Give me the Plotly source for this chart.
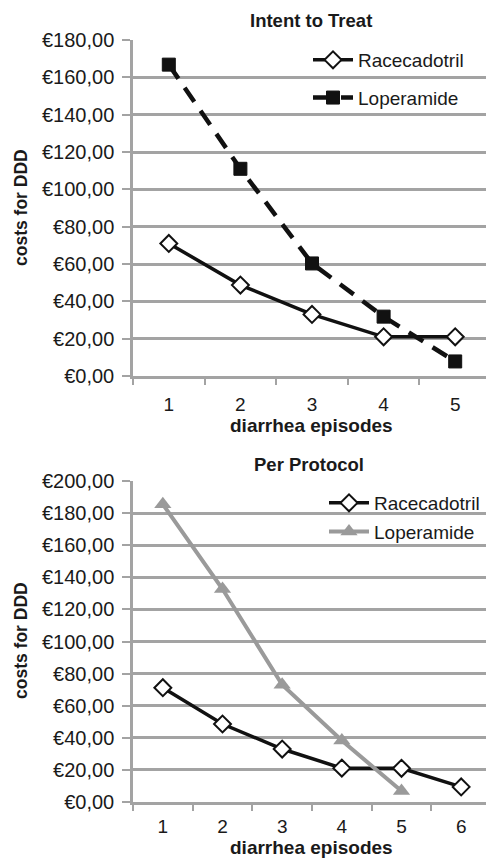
import plotly.graph_objects as go

# the page body adds an 8px margin; the figure is sized to fit the window
OFF = 8
W, H = 494 - OFF, 858 - OFF

# ---- data ----
itt_episodes = ["1", "2", "3", "4", "5"]
itt_racecadotril = [71.0, 48.7, 33.0, 21.0, 21.0]
itt_loperamide = [166.8, 111.0, 60.3, 31.8, 7.8]

pp_episodes = ["1", "2", "3", "4", "5", "6"]
pp_racecadotril = [71.2, 48.6, 33.0, 21.1, 21.0, 9.4]
pp_loperamide = [185.5, 132.7, 73.0, 38.3, 6.8]

FONT = "Liberation Sans, Arial, sans-serif"
TXT = "#1a1a1a"
GRID = "#a3a3a3"


def px_x(p):
    return (p - OFF) / W


def px_y(p):
    return 1 - (p - OFF) / H


fig = go.Figure()

# top chart
fig.add_trace(go.Scatter(
    x=itt_episodes, y=itt_racecadotril, name="Racecadotril", mode="lines+markers",
    line=dict(color="#111111", width=3.5),
    marker=dict(symbol="diamond", size=13, color="white", line=dict(color="#111111", width=2)),
    xaxis="x", yaxis="y", legend="legend", legendgroup="a"))
fig.add_trace(go.Scatter(
    x=itt_episodes, y=itt_loperamide, name="Loperamide", mode="lines+markers",
    line=dict(color="#111111", width=4.5, dash="17px,11px"),
    marker=dict(symbol="square", size=13, color="#111111", line=dict(color="#111111", width=1)),
    xaxis="x", yaxis="y", legend="legend", legendgroup="b"))

# bottom chart
fig.add_trace(go.Scatter(
    x=pp_episodes, y=pp_racecadotril, name="Racecadotril", mode="lines+markers",
    line=dict(color="#111111", width=3.5),
    marker=dict(symbol="diamond", size=13, color="white", line=dict(color="#111111", width=2)),
    xaxis="x2", yaxis="y2", legend="legend2", legendgroup="c"))
fig.add_trace(go.Scatter(
    x=pp_episodes[:len(pp_loperamide)], y=pp_loperamide, name="Loperamide", mode="lines+markers",
    line=dict(color="#9a9a9a", width=4),
    marker=dict(symbol="triangle-up", size=15, color="#9a9a9a"),
    xaxis="x2", yaxis="y2", legend="legend2", legendgroup="d"))

xcommon = dict(
    type="category", tickson="boundaries", ticks="outside", ticklen=6, tickwidth=2,
    tickcolor=GRID, showline=True, linecolor=GRID, linewidth=2.5, showgrid=False,
    tickfont=dict(family=FONT, size=19, color=TXT), fixedrange=True, automargin=False,
)
ycommon = dict(
    dtick=20, tickprefix="€", tickformat=".2f", ticks="outside", ticklen=8, tickwidth=2,
    tickcolor=GRID, showline=True, linecolor=GRID, linewidth=2.5, showgrid=True,
    gridcolor=GRID, gridwidth=2.5, zeroline=False, automargin=False,
    tickfont=dict(family=FONT, size=20, color=TXT), ticklabelstandoff=4,
)

fig.update_layout(
    width=W, height=H, margin=dict(l=0, r=0, t=0, b=0, autoexpand=False),
    paper_bgcolor="white", plot_bgcolor="white", separators=",.",
    xaxis=dict(domain=[px_x(133), px_x(491)], anchor="y", range=[-0.5, 4.5],
               ticklabelstandoff=9, **xcommon),
    yaxis=dict(domain=[px_y(376), px_y(40)], anchor="x", range=[0, 180], **ycommon),
    xaxis2=dict(domain=[px_x(133), px_x(491)], anchor="y2", range=[-0.5, 5.5],
                ticklabelstandoff=5, **xcommon),
    yaxis2=dict(domain=[px_y(802), px_y(481)], anchor="x2", range=[0, 200], **ycommon),
    legend=dict(x=px_x(308), y=px_y(41), xanchor="left", yanchor="top",
                font=dict(family=FONT, size=19, color=TXT), bgcolor="rgba(0,0,0,0)",
                tracegroupgap=10, itemwidth=40),
    legend2=dict(x=px_x(324), y=px_y(484), xanchor="left", yanchor="top",
                 font=dict(family=FONT, size=19, color=TXT), bgcolor="rgba(0,0,0,0)",
                 tracegroupgap=1, itemwidth=40),
)

ann = []
def A(text, x, y, size, angle=0):
    ann.append(dict(text=text, x=px_x(x), y=px_y(y), xref="paper", yref="paper",
                    showarrow=False, textangle=angle, xanchor="center", yanchor="middle",
                    font=dict(family=FONT, size=size, color=TXT)))

A("<b>Intent to Treat</b>", 311, 21, 18.5)
A("<b>Per Protocol</b>", 309, 464, 18.5)
A("<b>diarrhea episodes</b>", 311, 425, 19)
A("<b>diarrhea episodes</b>", 311, 847, 19)
A("<b>costs for DDD</b>", 21, 208, 17.5, -90)
A("<b>costs for DDD</b>", 21, 641, 17.5, -90)
fig.update_layout(annotations=ann)

fig.write_html("out.html")
